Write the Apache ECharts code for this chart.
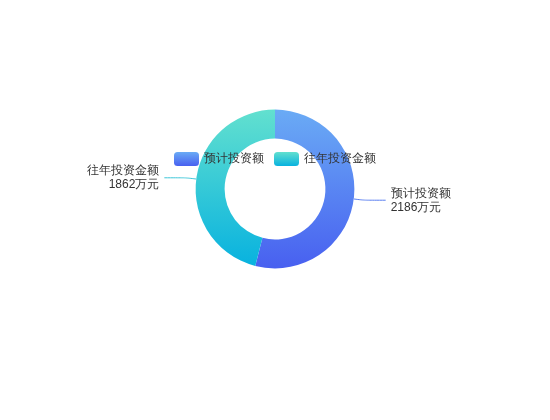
<!DOCTYPE html>
<html>
<head>
<meta charset="utf-8">
<script src="https://cdn.jsdelivr.net/npm/echarts@6/dist/echarts.min.js"></script>
<style>
	html, body { margin: 0; padding: 0; background: #fff; }
	#main { width: 550px; height: 420px; }
</style>
</head>
<body>
<div id="main"></div>
<script>
	// 投资额数据
	var names = ['预计投资额', '往年投资金额'];
	var values = [2186, 1862];
	var unit = '万元';

	var gradients = [
		['#6aabf5', '#4860f0'],
		['#62e0cf', '#08b2df']
	];

	var myChart = echarts.init(document.getElementById('main'));

	var data = names.map(function (name, i) {
		return {
			name: name,
			value: values[i],
			itemStyle: {
				color: new echarts.graphic.LinearGradient(0, 0, 0, 1, [
					{offset: 0, color: gradients[i][0]},
					{offset: 1, color: gradients[i][1]}
				])
			},
			labelLine: {
				lineStyle: {color: i === 0 ? '#5a7ff0' : '#3ec6d8'}
			}
		};
	});

	var option = {
		animation: false,
		legend: {
			top: 147,
			left: 'center',
			icon: 'roundRect',
			itemWidth: 25,
			itemHeight: 14,
			itemGap: 10,
			textStyle: {color: '#333', fontSize: 12},
			data: names
		},
		series: [
			{
				type: 'pie',
				center: ['50%', '45%'],
				radius: ['24%', '37.8%'],
				startAngle: 90,
				label: {
					color: '#333',
					fontSize: 12,
					lineHeight: 14,
					formatter: function (p) {
						return p.name + '\n' + p.value + unit;
					}
				},
				labelLine: {
					length: 10,
					length2: 22,
					smooth: true,
					lineStyle: {width: 1}
				},
				data: data
			}
		]
	};
	myChart.setOption(option);
</script>
</body>
</html>
